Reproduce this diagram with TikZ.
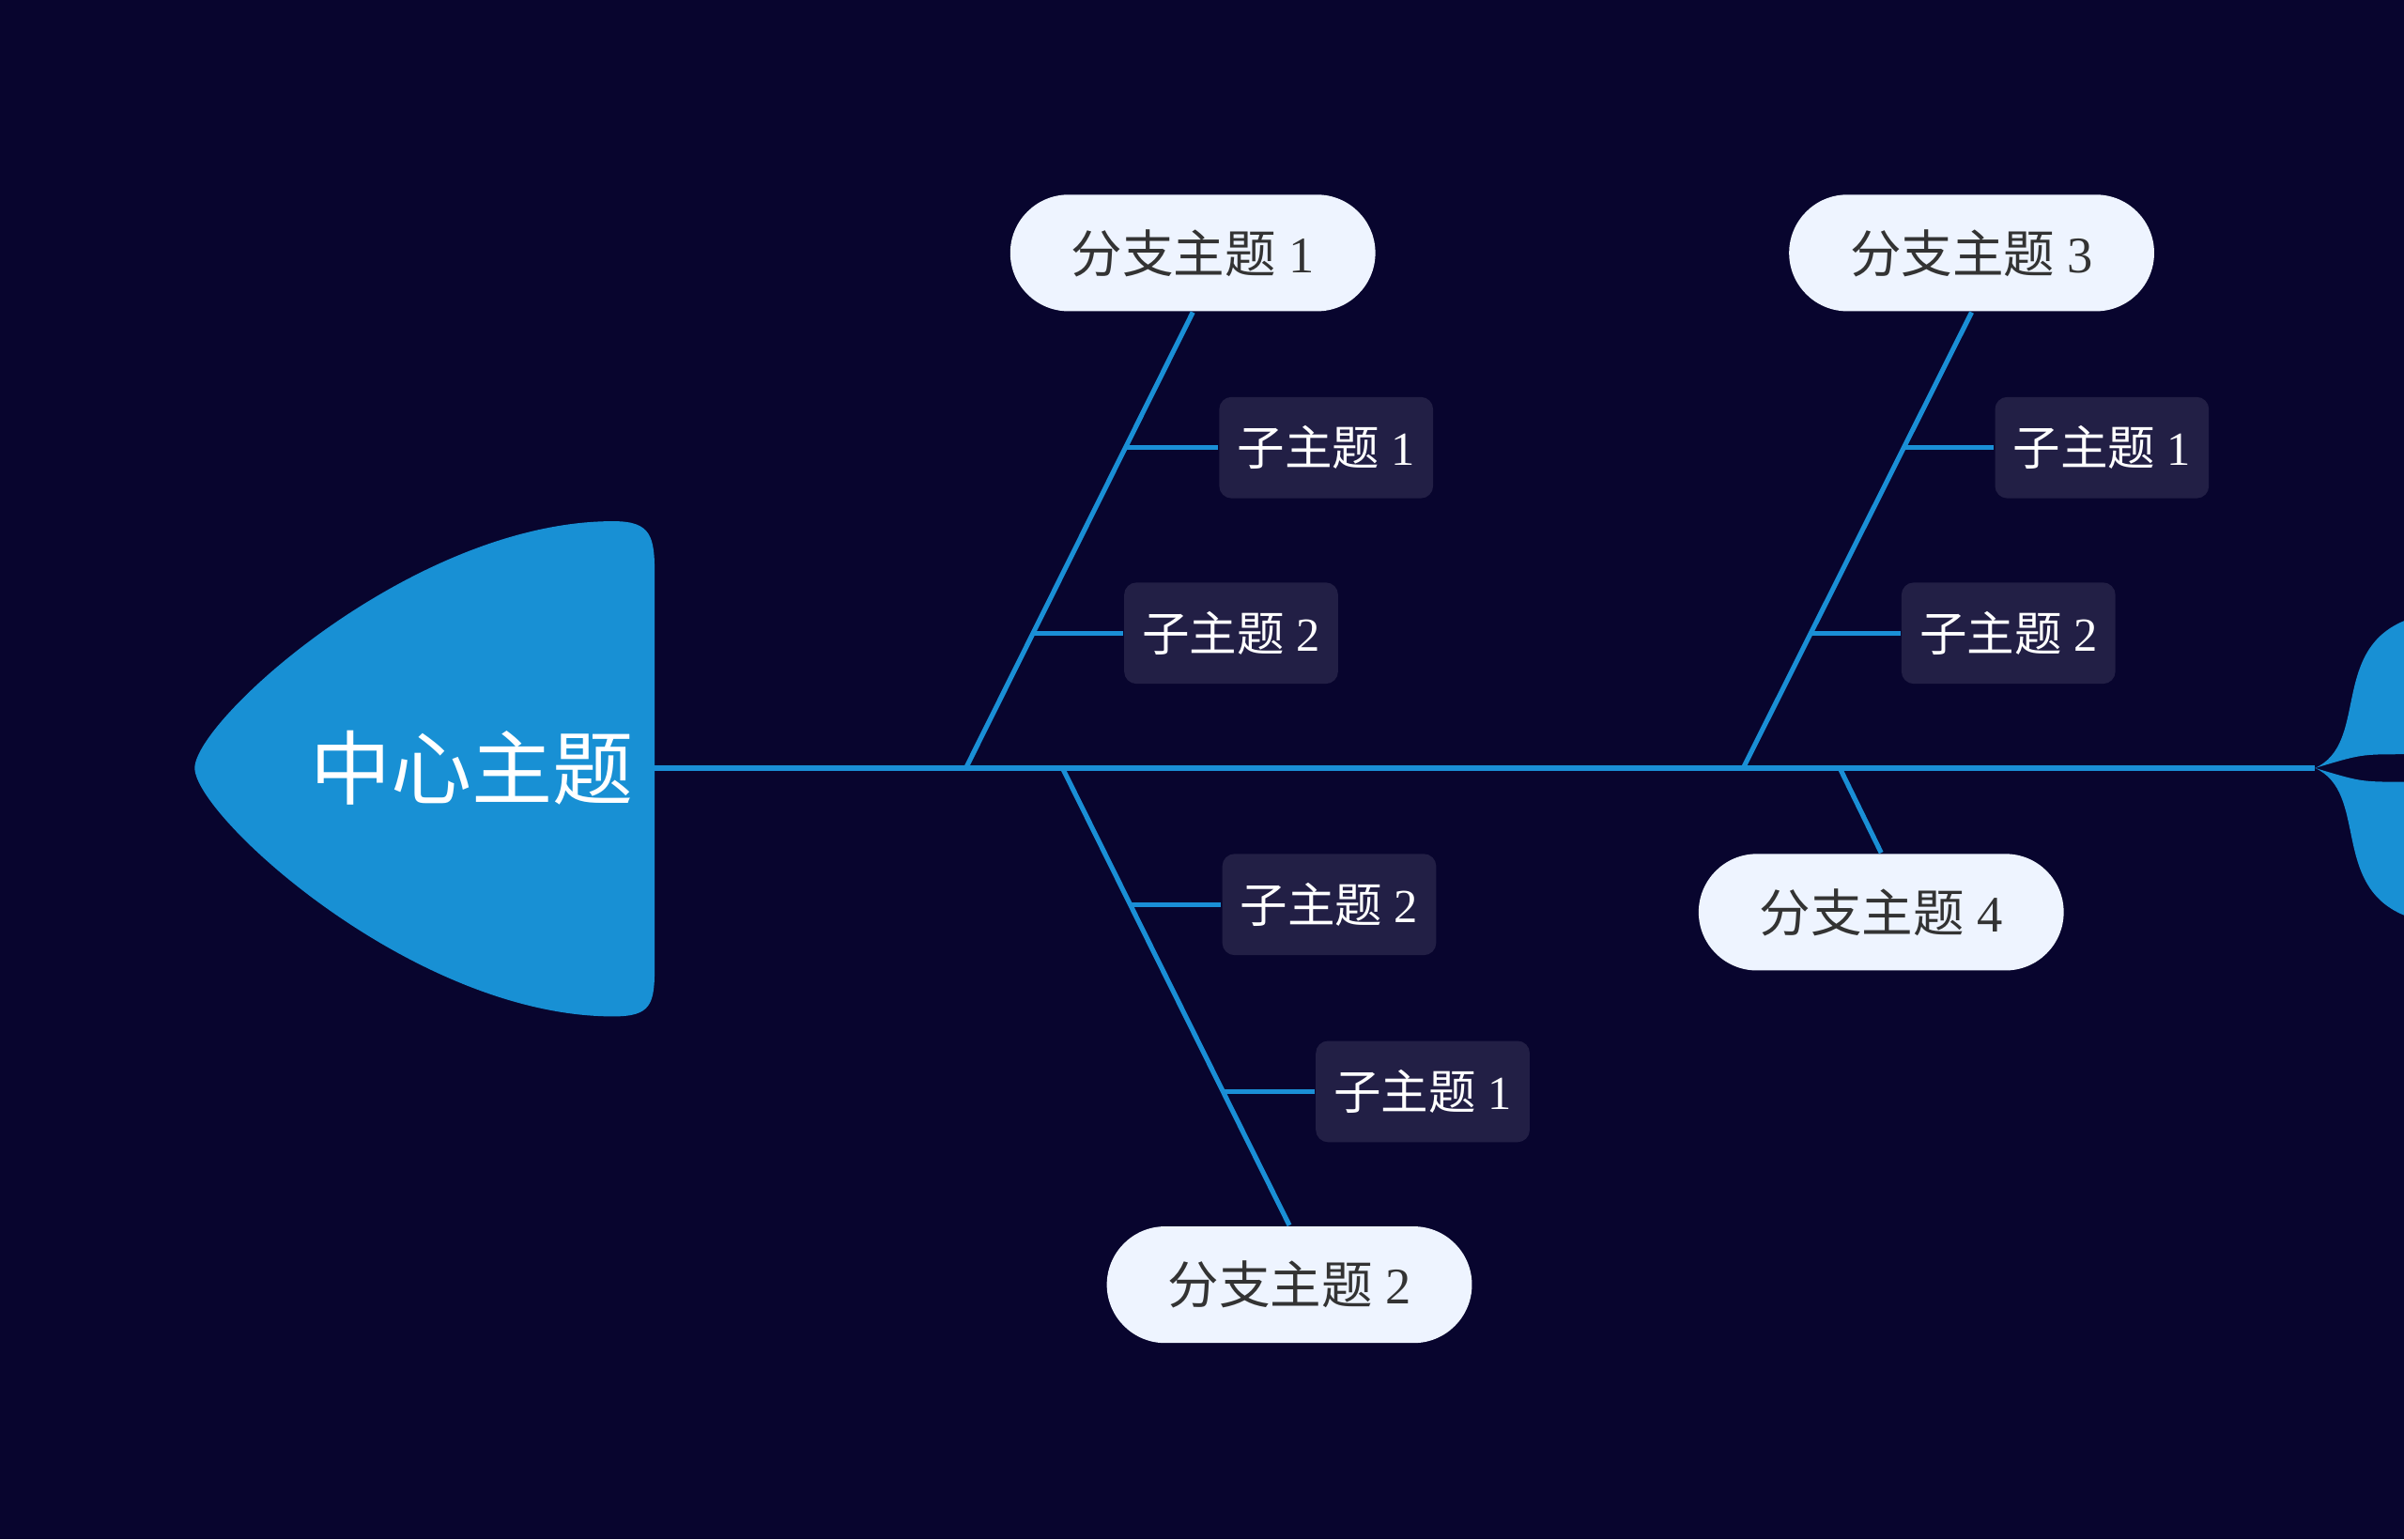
\documentclass[tikz,border=0pt]{standalone}
\usepackage{fontspec}
\setmainfont{Liberation Serif}
\newfontfamily\cjk{Noto Sans CJK SC}
\usetikzlibrary{positioning}
\definecolor{bgnavy}{HTML}{08052E}
\definecolor{bonecol}{HTML}{1A8FD6}
\definecolor{headcol}{HTML}{1890D4}
\definecolor{mainfill}{HTML}{EEF4FF}
\definecolor{subfill}{HTML}{221F45}
\begin{document}
\begin{tikzpicture}[x=0.01cm, y=-0.01cm, line join=round]

    \tikzset{%
    every bone/.style={
        draw=bonecol,
        line width=0.9pt
        },
    main topic/.style={
        rounded corners=0.38cm,
        fill=mainfill,
        text=black!80,
        minimum width=2.38cm,
        minimum height=0.76cm,
        font=\fontsize{9.5}{11}\selectfont
        },
    sub topic/.style={
        rounded corners=0.08cm,
        fill=subfill,
        text=white,
        minimum width=1.38cm,
        minimum height=0.66cm,
        font=\fontsize{8.8}{10}\selectfont
        },
    }

    % Background
    \fill [bgnavy] (0,0) rectangle (1568,1004);
    \useasboundingbox (0,0) rectangle (1568,1004);

    % Fish head
    \fill [headcol] (127,501) .. controls (127,470) and (270,340) .. (400,340)
        .. controls (425,340) and (427,350) .. (427,375) -- (427,630)
        .. controls (427,655) and (425,663) .. (400,663)
        .. controls (270,663) and (127,532) .. (127,501) -- cycle;
    \node [text=white, font=\cjk\fontsize{15}{17}\selectfont] (head) at (308,501) {中心主题};

    % Fish tail
    \fill [headcol] (1510,501) .. controls (1545,485) and (1520,425) .. (1568,405)
        -- (1568,492) .. controls (1540,492) .. (1510,501) -- cycle;
    \fill [headcol] (1510,501) .. controls (1545,517) and (1520,577) .. (1568,597)
        -- (1568,510) .. controls (1540,510) .. (1510,501) -- cycle;

    % Spine
    \coordinate (spine-end) at (1510,501);
    \draw [every bone] (427,501) -- (spine-end);

    % Branch topics
    \node [main topic] (branch-1) at (778,165) {{\cjk 分支主题} 1};
    \node [main topic] (branch-2) at (841,838) {{\cjk 分支主题} 2};
    \node [main topic] (branch-3) at (1286,165) {{\cjk 分支主题} 3};
    \node [main topic] (branch-4) at (1227,595) {{\cjk 分支主题} 4};

    % Branch roots on the spine
    \coordinate (root-1) at (630,501);
    \coordinate (root-2) at (693,501);
    \coordinate (root-3) at (1137,501);
    \coordinate (root-4) at (1200,501);

    \draw [every bone] (root-1) -- (branch-1.south);
    \draw [every bone] (root-2) -- (branch-2.north);
    \draw [every bone] (root-3) -- (branch-3.south);
    \draw [every bone] (root-4) -- (branch-4.north);

    % Sub topics and their ribs
    \foreach \n/\t/\x/\y/\bx in {a/1/865/292/735, b/2/803/413/674, c/2/867/590/738,
        d/1/928/712/799, e/1/1371/292/1242, f/2/1310/413/1181}
    {
    \node [sub topic] (sub-\n) at (\x,\y) {{\cjk 子主题} \t};
    \coordinate (rib-\n) at (\bx,\y);
    \draw [every bone] (rib-\n) -- (sub-\n.west);
    }

\end{tikzpicture}
\end{document}
